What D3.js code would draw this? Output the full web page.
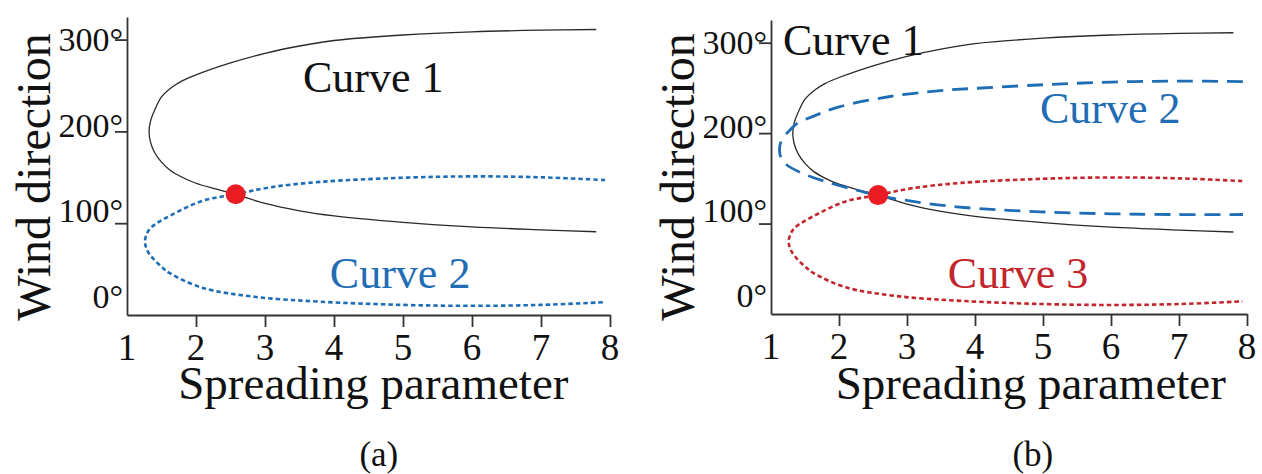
<!DOCTYPE html>
<html>
<head>
<meta charset="utf-8">
<script src="https://cdn.jsdelivr.net/npm/d3@7/dist/d3.min.js"></script>
<style>
  html, body { margin: 0; padding: 0; background: #fff; }
  svg { display: block; }
  text { font-family: "Liberation Serif", "Times New Roman", serif; }
</style>
</head>
<body>
<svg id="chart" width="1262" height="474"></svg>
<script>
// ---- data -------------------------------------------------------------
// Spreading parameter ticks and labels
const xTickValues = [2, 3, 4, 5, 6, 7, 8];
const xTickLabels = ["1", "2", "3", "4", "5", "6", "7", "8"];
// Wind direction ticks and labels
const yTickValues = [100, 200, 300];
const yTickLabels = ["0°", "100°", "200°", "300°"];

// Curve 1: solid black loci (upper branch -> vertex -> lower branch)
const curve1 = [
  [7.8, 311], [7.0, 310.3], [6.0, 308.5], [5.0, 305], [4.0, 299], [3.5, 293],
  [3.0, 285], [2.5, 274.5], [2.0, 261.5], [1.8, 255], [1.65, 248], [1.5, 237.5],
  [1.4, 223], [1.34, 211], [1.32, 200], [1.34, 188.5], [1.4, 177], [1.5, 166.5],
  [1.62, 158], [1.8, 150], [2.0, 143.5], [2.3, 137], [2.57, 131.5], [3.0, 121.5],
  [3.5, 113.5], [4.0, 108], [5.0, 101], [6.0, 96], [7.0, 92.8], [7.8, 90.7]
];
// Lower dotted loci: Curve 2 in panel (a), Curve 3 in panel (b)
const curveLow = [
  [7.93, 147], [7.0, 150], [6.0, 151], [5.0, 149.5], [3.8, 145], [3.07, 139],
  [2.57, 131.5], [2.1, 124.5], [1.62, 108], [1.36, 96], [1.29, 89], [1.26, 80],
  [1.29, 71], [1.36, 63], [1.5, 52.5], [1.62, 45.5], [2.1, 29.5], [2.83, 20],
  [3.8, 14.5], [5.0, 11], [6.0, 10], [7.0, 11], [7.93, 14]
];
// Curve 2 in panel (b): dashed blue loci
const curve2b = [
  [7.94, 257], [7.0, 257.5], [6.0, 256.5], [5.0, 253.5], [4.0, 249.5], [3.49, 247],
  [2.75, 240.5], [2.0, 229], [1.6, 218], [1.38, 210.5], [1.3, 205], [1.2, 197],
  [1.14, 189], [1.125, 181], [1.15, 172], [1.23, 165], [1.43, 156.5], [1.82, 146],
  [2.31, 136], [2.58, 131], [3.04, 125], [3.73, 118.5], [4.96, 113], [6.43, 110.3],
  [7.94, 110]
];
// Intersection point shared by the loci
const crossing = [2.575, 131.5];

// ---- styles -----------------------------------------------------------
const BLACK = "#2a2a2a";
const BLUE = "#1f6db5";
const RED = "#c3252c";
const DOT = "#ec1c24";

const svg = d3.select("#chart");

const panels = [
  {
    name: "(a)", xRange: [127, 610], yRange: [315, 17], yTop: 324.6,
    titleX: 4.57, captionX: 4.65,
    series: [
      { pts: curve1, color: BLACK, width: 1.3, dash: null },
      { pts: curveLow, color: BLUE, width: 2.6, dash: "4.5,3" }
    ],
    labels: [
      { text: "Curve 1", x: 3.55, y: 243, color: "#111" },
      { text: "Curve 2", x: 3.94, y: 29.4, color: BLUE }
    ]
  },
  {
    name: "(b)", xRange: [771, 1247], yRange: [314, 20], yTop: 325.1,
    titleX: 4.82, captionX: 4.85,
    series: [
      { pts: curve1, color: BLACK, width: 1.3, dash: null },
      { pts: curve2b, color: BLUE, width: 2.8, dash: "16,9" },
      { pts: curveLow, color: RED, width: 2.6, dash: "4.5,3" }
    ],
    labels: [
      { text: "Curve 1", x: 1.176, y: 286.4, color: "#111" },
      { text: "Curve 2", x: 4.956, y: 211.2, color: BLUE },
      { text: "Curve 3", x: 3.60, y: 29, color: RED }
    ]
  }
];

panels.forEach(p => {
  const x = d3.scaleLinear().domain([1, 8]).range(p.xRange);
  const y = d3.scaleLinear().domain([0, p.yTop]).range(p.yRange);
  const y0 = y(0);
  const g = svg.append("g");

  // axes
  const xAxis = d3.axisBottom(x).tickValues(xTickValues).tickSize(12)
    .tickSizeOuter(0).tickFormat("");
  const yAxis = d3.axisLeft(y).tickValues(yTickValues).tickSize(12)
    .tickSizeOuter(0).tickFormat("");
  const gx = g.append("g").attr("transform", `translate(0,${y0})`).call(xAxis);
  const gy = g.append("g").attr("transform", `translate(${p.xRange[0]},0)`).call(yAxis);
  [gx, gy].forEach(a => {
    a.selectAll("path, line").attr("stroke", "#333").attr("stroke-width", 1.8);
  });

  // x tick labels
  g.append("g").selectAll("text").data(xTickLabels).join("text")
    .attr("x", d => x(+d))
    .attr("y", y0 + 45)
    .attr("text-anchor", "middle")
    .attr("font-size", 37)
    .attr("fill", "#111")
    .text(d => d);

  // y tick labels sit on a slightly compressed ladder beside the axis
  const yLab = d3.scaleLinear().domain([0, 300]).range([y0 - 19, y(300)]);
  g.append("g").selectAll("text").data(yTickLabels).join("text")
    .attr("x", p.xRange[0] - 4)
    .attr("y", d => yLab(parseFloat(d)) + 11.5)
    .attr("text-anchor", "end")
    .attr("font-size", 34)
    .attr("fill", "#111")
    .text(d => d);

  // axis titles
  g.append("text")
    .attr("x", x(p.titleX)).attr("y", 399)
    .attr("text-anchor", "middle").attr("font-size", 47).attr("fill", "#111")
    .text("Spreading parameter");
  g.append("text")
    .attr("transform", `translate(${p.xRange[0] - 77},177) rotate(-90)`)
    .attr("text-anchor", "middle").attr("font-size", 48).attr("fill", "#111")
    .text("Wind direction");

  // panel caption
  g.append("text")
    .attr("x", x(p.captionX)).attr("y", 466)
    .attr("text-anchor", "middle").attr("font-size", 35).attr("fill", "#111")
    .text(p.name);

  // curves
  const line = d3.line().x(d => x(d[0])).y(d => y(d[1]))
    .curve(d3.curveCatmullRom.alpha(0.5));
  p.series.forEach(s => {
    g.append("path")
      .attr("d", line(s.pts))
      .attr("fill", "none")
      .attr("stroke", s.color)
      .attr("stroke-width", s.width)
      .attr("stroke-dasharray", s.dash);
  });

  // curve labels
  p.labels.forEach(l => {
    g.append("text")
      .attr("x", x(l.x)).attr("y", y(l.y))
      .attr("font-size", 44).attr("fill", l.color)
      .text(l.text);
  });

  // intersection marker
  g.append("circle")
    .attr("cx", x(crossing[0])).attr("cy", y(crossing[1]))
    .attr("r", 10).attr("fill", DOT);
});
</script>
</body>
</html>
